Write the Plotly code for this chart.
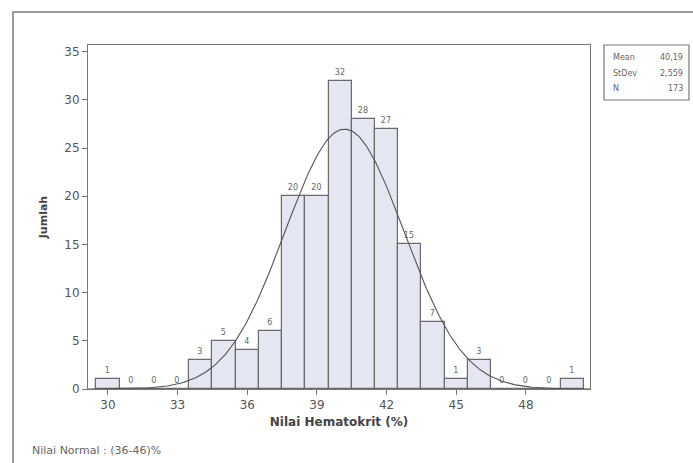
import numpy as np
import plotly.graph_objects as go

# ---- data ----
hct_values = list(range(30, 51))
counts = [1, 0, 0, 0, 3, 5, 4, 6, 20, 20, 32, 28, 27, 15, 7, 1, 3, 0, 0, 0, 1]
x_ticks = [30, 33, 36, 39, 42, 45, 48]
y_ticks = [0, 5, 10, 15, 20, 25, 30, 35]
stat_names = ["Mean", "StDev", "N"]
stat_values = ["40,19", "2,559", "173"]
mean_val = 40.19
sd_val = 2.559
n_val = 173
bin_width = 1.0

W, H = 693, 463
L, R, T, B = 88, 590, 45, 389  # plot area in pixels
x_range = [29.14, 50.76]
y_range = [0, 35.7]

def px(x):
    return (x - L) / (R - L)

def py(y):
    return (B - y) / (B - T)

# fitted normal curve from the displayed statistics
xs = np.linspace(x_range[0], x_range[1], 400)
ys = n_val * bin_width / (sd_val * np.sqrt(2 * np.pi)) * np.exp(-0.5 * ((xs - mean_val) / sd_val) ** 2)

font_main = "DejaVu Sans, Verdana, sans-serif"
gray = "#555555"

fig = go.Figure()
fig.add_trace(go.Bar(
    x=hct_values, y=counts, width=1.0,
    marker=dict(color="#e4e6f2", line=dict(color="#6a6a6a", width=1.2)),
    text=[str(c) for c in counts], textposition="outside",
    textfont=dict(size=8, color="#666666", family=font_main),
    cliponaxis=False, hoverinfo="skip",
))
fig.add_trace(go.Scatter(
    x=xs, y=ys, mode="lines", line=dict(color="#555555", width=1.1),
    hoverinfo="skip",
))

fig.update_layout(
    width=W, height=H,
    margin=dict(l=L, r=W - R, t=T, b=H - B),
    paper_bgcolor="white", plot_bgcolor="white",
    showlegend=False, bargap=0,
    font=dict(family=font_main, color=gray),
    uniformtext=dict(mode=False),
)
fig.update_xaxes(
    range=x_range, tickvals=x_ticks, ticks="outside", ticklen=5, tickcolor="#777",
    showline=True, linecolor="#777", linewidth=1, mirror=True,
    showgrid=False, zeroline=False,
    tickfont=dict(size=12, color=gray, family=font_main),
    title=dict(text="<b>Nilai Hematokrit (%)</b>", font=dict(size=12, color="#444", family=font_main), standoff=6),
)
fig.update_yaxes(
    range=y_range, tickvals=y_ticks, ticks="outside", ticklen=5, tickcolor="#777",
    showline=True, linecolor="#777", linewidth=1, mirror=True,
    showgrid=False, zeroline=False,
    tickfont=dict(size=12, color=gray, family=font_main),
    title=dict(text="<b>Jumlah</b>", font=dict(size=11, color="#444", family=font_main), standoff=14),
)

# outer frame (only top and left edges visible in the reference)
fig.add_shape(type="rect", xref="paper", yref="paper",
              x0=px(13), x1=px(720), y0=py(490), y1=py(12),
              line=dict(color="#9a9a9a", width=2), layer="below")

# statistics box
fig.add_shape(type="rect", xref="paper", yref="paper",
              x0=px(604), x1=px(689), y0=py(100), y1=py(45),
              line=dict(color="#777777", width=1.2))
row_y = [58, 73, 88]
for name, val, ry in zip(stat_names, stat_values, row_y):
    fig.add_annotation(xref="paper", yref="paper", x=px(611), y=py(ry), text=name,
                       showarrow=False, xanchor="left", yanchor="middle",
                       font=dict(size=8, color="#666", family=font_main))
    fig.add_annotation(xref="paper", yref="paper", x=px(685), y=py(ry), text=val,
                       showarrow=False, xanchor="right", yanchor="middle",
                       font=dict(size=8, color="#666", family=font_main))

# footer note
fig.add_annotation(xref="paper", yref="paper", x=px(30), y=py(451),
                   text="Nilai Normal : (36-46)%", showarrow=False,
                   xanchor="left", yanchor="middle",
                   font=dict(size=11, color="#666", family=font_main))

fig.write_html("out.html")
